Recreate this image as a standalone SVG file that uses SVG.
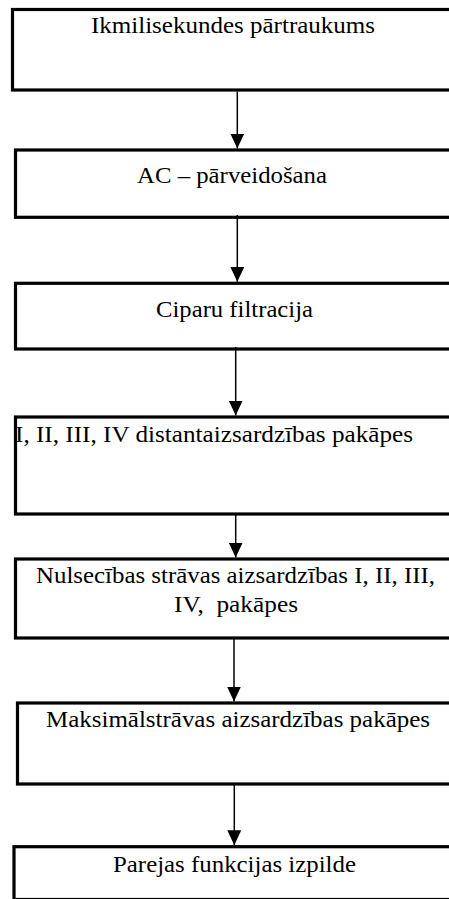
<svg xmlns="http://www.w3.org/2000/svg" width="449" height="899" viewBox="0 0 449 899">
  <style>
    .box { fill: #ffffff; stroke: #000000; stroke-width: 3.2; }
    .lbl { font-family: "Liberation Serif", "Times New Roman", serif; font-size: 24px; fill: #000000; white-space: pre; }
    .conn { stroke: #000000; stroke-width: 1.5; fill: none; }
  </style>
  <defs>
    <marker id="arrow" markerUnits="userSpaceOnUse" markerWidth="15" markerHeight="14" refX="15" refY="7" orient="auto">
      <path d="M0,0 L15,7 L0,14 Z" fill="#000000"/>
    </marker>
  </defs>
  <rect x="0" y="0" width="449" height="899" fill="#ffffff"/>

  <g id="node1">
    <rect class="box" x="12.5" y="9.5" width="460" height="80.5"/>
    <text class="lbl" x="91" y="32.5" textLength="284" lengthAdjust="spacingAndGlyphs">Ikmilisekundes pārtraukums</text>
  </g>
  <g id="node2">
    <rect class="box" x="15.5" y="150" width="460" height="67.3"/>
    <text class="lbl" x="137" y="183" textLength="190" lengthAdjust="spacingAndGlyphs">AC – pārveidošana</text>
  </g>
  <g id="node3">
    <rect class="box" x="15.5" y="283.3" width="460" height="65.7"/>
    <text class="lbl" x="156" y="316.5" textLength="157" lengthAdjust="spacingAndGlyphs">Ciparu filtracija</text>
  </g>
  <g id="node4">
    <rect class="box" x="15.5" y="417" width="460" height="97"/>
    <text class="lbl" x="15" y="441.5" textLength="398" lengthAdjust="spacingAndGlyphs">I, II, III, IV distantaizsardzības pakāpes</text>
  </g>
  <g id="node5">
    <rect class="box" x="15.5" y="559" width="460" height="79"/>
    <text class="lbl" x="36" y="582.5" textLength="399" lengthAdjust="spacingAndGlyphs">Nulsecības strāvas aizsardzības I, II, III,</text>
    <text class="lbl" x="174" y="611.5" textLength="124" lengthAdjust="spacingAndGlyphs">IV,  pakāpes</text>
  </g>
  <g id="node6">
    <rect class="box" x="17.5" y="703" width="460" height="81"/>
    <text class="lbl" x="46" y="727" textLength="384" lengthAdjust="spacingAndGlyphs">Maksimālstrāvas aizsardzības pakāpes</text>
  </g>
  <g id="node7">
    <rect class="box" x="14" y="846.7" width="460" height="52.8"/>
    <text class="lbl" x="113" y="871.5" textLength="243" lengthAdjust="spacingAndGlyphs">Parejas funkcijas izpilde</text>
  </g>

  <g id="connectors">
    <line class="conn" x1="237.3" y1="91.5" x2="237.3" y2="148.5" marker-end="url(#arrow)"/>
    <line class="conn" x1="237.3" y1="215" x2="237.3" y2="281.8" marker-end="url(#arrow)"/>
    <line class="conn" x1="235.7" y1="347" x2="235.7" y2="415.5" marker-end="url(#arrow)"/>
    <line class="conn" x1="235.7" y1="514" x2="235.7" y2="557.5" marker-end="url(#arrow)"/>
    <line class="conn" x1="234" y1="638" x2="234" y2="701.5" marker-end="url(#arrow)"/>
    <line class="conn" x1="234.3" y1="784" x2="234.3" y2="845.2" marker-end="url(#arrow)"/>
  </g>
</svg>
